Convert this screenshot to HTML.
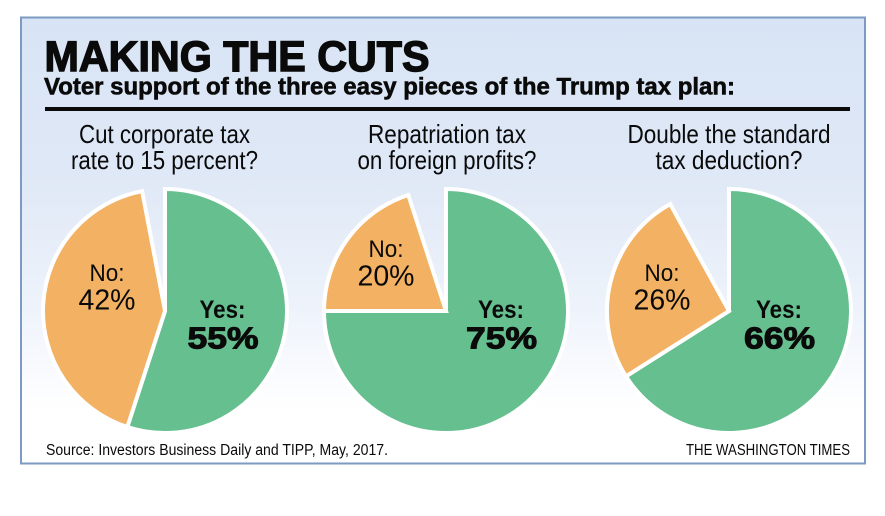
<!DOCTYPE html>
<html>
<head>
<meta charset="utf-8">
<style>
html,body{margin:0;padding:0;background:#fff;width:885px;height:516px;overflow:hidden}
svg{display:block;font-family:"Liberation Sans",sans-serif}
text{fill:#0a0a0a}
</style>
</head>
<body>
<svg id="chart" width="885" height="516" viewBox="0 0 885 516" xmlns="http://www.w3.org/2000/svg">
  <defs>
    <linearGradient id="bg" x1="0" y1="0" x2="0" y2="1">
      <stop offset="0" stop-color="#d8e4f5"/>
      <stop offset="0.35" stop-color="#dfe8f6"/>
      <stop offset="0.65" stop-color="#eef3fb"/>
      <stop offset="0.88" stop-color="#ffffff"/>
      <stop offset="1" stop-color="#ffffff"/>
    </linearGradient>
  </defs>
  <rect x="21" y="17.5" width="844" height="446" fill="url(#bg)" stroke="#7d9ac2" stroke-width="2"/>
  <text x="44.5" y="71" font-size="43" font-weight="700" stroke="#0a0a0a" stroke-width="1.4" stroke-linejoin="miter" textLength="385" lengthAdjust="spacingAndGlyphs">MAKING THE CUTS</text>
  <text x="44" y="94.5" font-size="24" font-weight="700" stroke="#0a0a0a" stroke-width="0.6" textLength="691" lengthAdjust="spacingAndGlyphs">Voter support of the three easy pieces of the Trump tax plan:</text>
  <rect x="45" y="107" width="805" height="4" fill="#0a0a0a"/>
  <g id="pies"></g>
  <text x="46" y="455" font-size="15.5" textLength="342" lengthAdjust="spacingAndGlyphs">Source: Investors Business Daily and TIPP, May, 2017.</text>
  <text x="686" y="455" font-size="15.5" textLength="164" lengthAdjust="spacingAndGlyphs">THE WASHINGTON TIMES</text>
</svg>
<script>
var questionLines = [
  ["Cut corporate tax", "rate to 15 percent?"],
  ["Repatriation tax", "on foreign profits?"],
  ["Double the standard", "tax deduction?"]
];
var yesValues = [55, 75, 66];
var noValues = [42, 20, 26];

var SVG_NS = "http://www.w3.org/2000/svg";
var pieRoot = document.getElementById("pies");
var pieCenterX = [165, 446, 729];
var pieCenterY = 311;
var pieRadius = 122;
var questionWidths = [[171, 187], [158, 179], [203, 147]];
var questionCenterX = [164.5, 447, 729];
var yesLabelX = [222.5, 501, 779];
var noLabelX = [107, 386, 662];
var noLabelY = [281, 257, 281];

function angleFor(value) {
  return value * 3.6 * Math.PI / 180;
}
function pointAt(cx, angle, r) {
  return [cx + r * Math.sin(angle), pieCenterY - r * Math.cos(angle)];
}
function slicePath(cx, fromValue, toValue) {
  var a = pointAt(cx, angleFor(fromValue), pieRadius);
  var b = pointAt(cx, angleFor(toValue), pieRadius);
  var large = (toValue - fromValue) > 50 ? 1 : 0;
  return "M" + cx + " " + pieCenterY + "L" + a[0] + " " + a[1] +
    "A" + pieRadius + " " + pieRadius + " 0 " + large + " 1 " + b[0] + " " + b[1] + "Z";
}
function addText(parent, content, x, y, size, bold, width) {
  var t = document.createElementNS(SVG_NS, "text");
  t.textContent = content;
  t.setAttribute("x", x);
  t.setAttribute("y", y);
  t.setAttribute("font-size", size);
  t.setAttribute("text-anchor", "middle");
  t.setAttribute("textLength", width);
  t.setAttribute("lengthAdjust", "spacingAndGlyphs");
  if (bold) {
    t.setAttribute("font-weight", "700");
  }
  parent.appendChild(t);
  return t;
}

yesValues.forEach(function (yes, i) {
  var no = noValues[i];
  var cx = pieCenterX[i];

  var group = document.createElementNS(SVG_NS, "g");
  
  
  pieRoot.appendChild(group);

  questionLines[i].forEach(function (line, j) {
    var q = addText(group, line, questionCenterX[i], 143 + j * 26, 26, false, questionWidths[i][j]);
    
    
  });

  var yesSlice = document.createElementNS(SVG_NS, "path");
  yesSlice.setAttribute("d", slicePath(cx, 0, yes));
  yesSlice.setAttribute("fill", "#66bf8f");
  yesSlice.setAttribute("stroke", "#ffffff");
  yesSlice.setAttribute("stroke-width", "4");
  yesSlice.setAttribute("stroke-linejoin", "miter");
  
  
  group.appendChild(yesSlice);

  var noSlice = document.createElementNS(SVG_NS, "path");
  noSlice.setAttribute("d", slicePath(cx, yes, yes + no));
  noSlice.setAttribute("fill", "#f3b163");
  noSlice.setAttribute("stroke", "#ffffff");
  noSlice.setAttribute("stroke-width", "4");
  noSlice.setAttribute("stroke-linejoin", "miter");
  
  
  group.appendChild(noSlice);

  var yesLabel = addText(group, "Yes:", yesLabelX[i], 318, 25, true, 46);
  
  
  var yesPct = addText(group, yes + "%", yesLabelX[i] + 0.5, 348.5, 31, true, 71);
  yesPct.setAttribute("stroke", "#0a0a0a");
  yesPct.setAttribute("stroke-width", "1");
  
  

  var noLabel = addText(group, "No:", noLabelX[i], noLabelY[i], 24.5, false, 35);
  
  
  var noPct = addText(group, no + "%", noLabelX[i], noLabelY[i] + 28.5, 29, false, 57);
  
  
});
</script>
</body>
</html>
